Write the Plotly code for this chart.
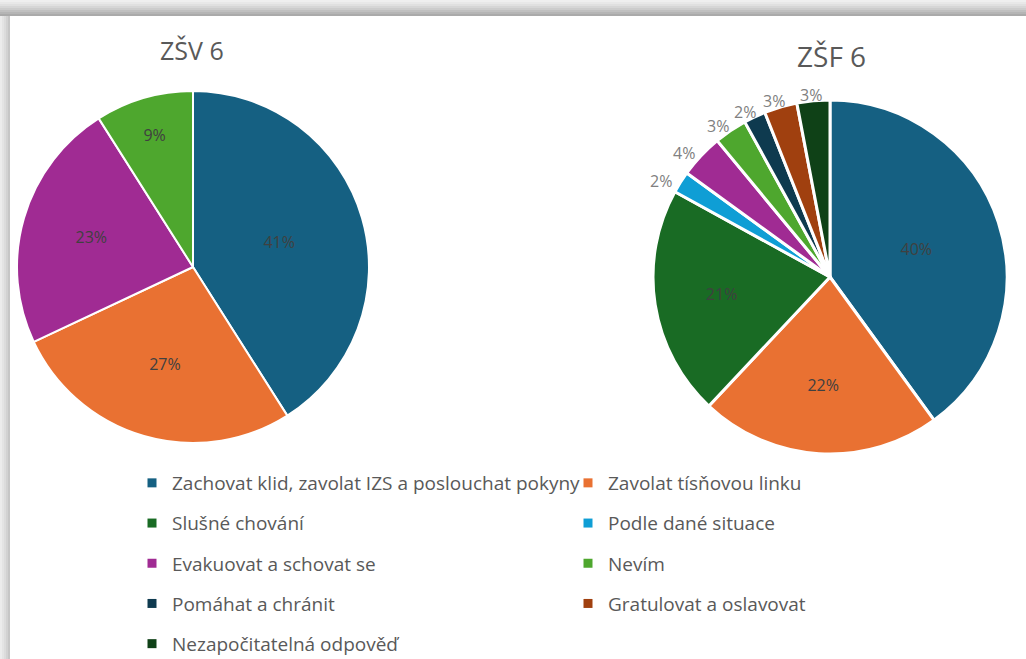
import math
import plotly.graph_objects as go

# ---- data ----
categories = [
    "Zachovat klid, zavolat IZS a poslouchat pokyny",
    "Zavolat tísňovou linku",
    "Slušné chování",
    "Podle dané situace",
    "Evakuovat a schovat se",
    "Nevím",
    "Pomáhat a chránit",
    "Gratulovat a oslavovat",
    "Nezapočitatelná odpověď",
]
colors = ["#156082", "#E97132", "#196B24", "#0F9ED5", "#A02B93",
          "#4EA72E", "#0E3A4F", "#A0400F", "#0F4117"]

zsv_labels = ["Zachovat klid, zavolat IZS a poslouchat pokyny",
              "Zavolat tísňovou linku", "Evakuovat a schovat se", "Nevím"]
zsv_values = [41, 27, 23, 9]

zsf_labels = categories
zsf_values = [40, 22, 21, 2, 4, 3, 2, 3, 3]

titles = ["ZŠV 6", "ZŠF 6"]

color_map = dict(zip(categories, colors))
W, H = 1026, 659
FONT = "Open Sans"

fig = go.Figure()


def pie_domain(cx, cy, r):
    half = r + 1
    return dict(x=[(cx - half) / W, (cx + half) / W],
                y=[1 - (cy + half) / H, 1 - (cy - half) / H])


L_CX, L_CY, L_R = 193, 267, 175
fig.add_trace(go.Pie(
    labels=zsv_labels, values=zsv_values, sort=False, direction="clockwise",
    rotation=0, domain=pie_domain(L_CX, L_CY, L_R),
    marker=dict(colors=[color_map[l] for l in zsv_labels],
                line=dict(color="white", width=2)),
    texttemplate="%{value}%", textposition="inside",
    insidetextorientation="horizontal",
    textfont=dict(size=16, color="#404040", family=FONT),
    showlegend=False, hoverinfo="label+value",
))

R_CX, R_CY, R_R = 830, 277, 176
zsf_pos = ["inside" if v >= 10 else "none" for v in zsf_values]
fig.add_trace(go.Pie(
    labels=zsf_labels, values=zsf_values, sort=False, direction="clockwise",
    rotation=0, domain=pie_domain(R_CX, R_CY, R_R),
    marker=dict(colors=[color_map[l] for l in zsf_labels],
                line=dict(color="white", width=3)),
    texttemplate="%{value}%", textposition=zsf_pos,
    insidetextorientation="horizontal",
    insidetextfont=dict(size=16, color="#404040", family=FONT),
    showlegend=False, hoverinfo="label+value",
))

# outside labels for the small slices, placed at each slice's mid-angle
total = sum(zsf_values)
cum = 0
for v, pos in zip(zsf_values, zsf_pos):
    mid = (cum + v / 2) / total * 2 * math.pi
    cum += v
    if pos != "none":
        continue
    s, c = math.sin(mid), math.cos(mid)
    rr = R_R + 4
    px = R_CX + rr * s + 20 * s
    py = R_CY - rr * c - 7 * c + 4
    fig.add_annotation(text=f"{v}%", x=px / W, y=1 - py / H, xref="paper", yref="paper",
                       xanchor="center", yanchor="middle", showarrow=False,
                       font=dict(size=16, color="#808080", family=FONT))

# legend entries (two columns)
col1 = [categories[i] for i in (0, 2, 4, 6, 8)]
for name in categories:
    fig.add_trace(go.Scatter(
        x=[0], y=[0], mode="markers", name=name,
        marker=dict(symbol="square", size=9, color=color_map[name]),
        legendgroup=name, hoverinfo="skip",
        legend="legend" if name in col1 else "legend2",
    ))

legend_common = dict(
    orientation="v", bgcolor="rgba(0,0,0,0)",
    font=dict(size=19, color="#595959", family=FONT),
    tracegroupgap=12.5, xanchor="left", yanchor="top", itemwidth=30,
    traceorder="grouped", xref="container", yref="container",
)
fig.update_layout(
    legend=dict(x=132 / W, y=1 - 464 / H, **legend_common),
    legend2=dict(x=568 / W, y=1 - 464 / H, **legend_common),
)

fig.update_xaxes(visible=False, range=[1, 2])
fig.update_yaxes(visible=False, range=[1, 2])

# titles
fig.add_annotation(text=titles[0], x=192 / W, y=1 - 50 / H, xref="paper", yref="paper",
                   xanchor="center", yanchor="middle", showarrow=False,
                   font=dict(size=25, color="#595959", family=FONT))
fig.add_annotation(text=titles[1], x=831 / W, y=1 - 56 / H, xref="paper", yref="paper",
                   xanchor="center", yanchor="middle", showarrow=False,
                   font=dict(size=28, color="#595959", family=FONT))

# frame shadow (top and left)
shades_top = ["#efefef", "#e8e8e8", "#e0e0e0", "#d6d6d6", "#cccccc", "#c0c0c0", "#b5b5b5", "#aaaaaa"]
for k, c in enumerate(shades_top):
    fig.add_shape(type="rect", xref="paper", yref="paper", layer="above",
                  x0=0, x1=1, y0=1 - (k + 1) * 2 / H, y1=1 - k * 2 / H,
                  line=dict(width=0), fillcolor=c)
shades_left = ["#ececec", "#e4e4e4", "#dcdcdc", "#d2d2d2", "#c6c6c6"]
for k, c in enumerate(shades_left):
    fig.add_shape(type="rect", xref="paper", yref="paper", layer="above",
                  x0=k * 2 / W, x1=(k + 1) * 2 / W, y0=0, y1=1 - 16 / H,
                  line=dict(width=0), fillcolor=c)

fig.update_layout(
    width=W, height=H, margin=dict(l=0, r=0, t=0, b=0, autoexpand=False),
    paper_bgcolor="white", plot_bgcolor="white",
)
fig.write_html(
    "out.html",
    config={"displayModeBar": False, "responsive": False},
    post_script="document.body.style.margin='0';document.body.style.overflow='hidden';"
                "document.documentElement.style.overflow='hidden';",
)
